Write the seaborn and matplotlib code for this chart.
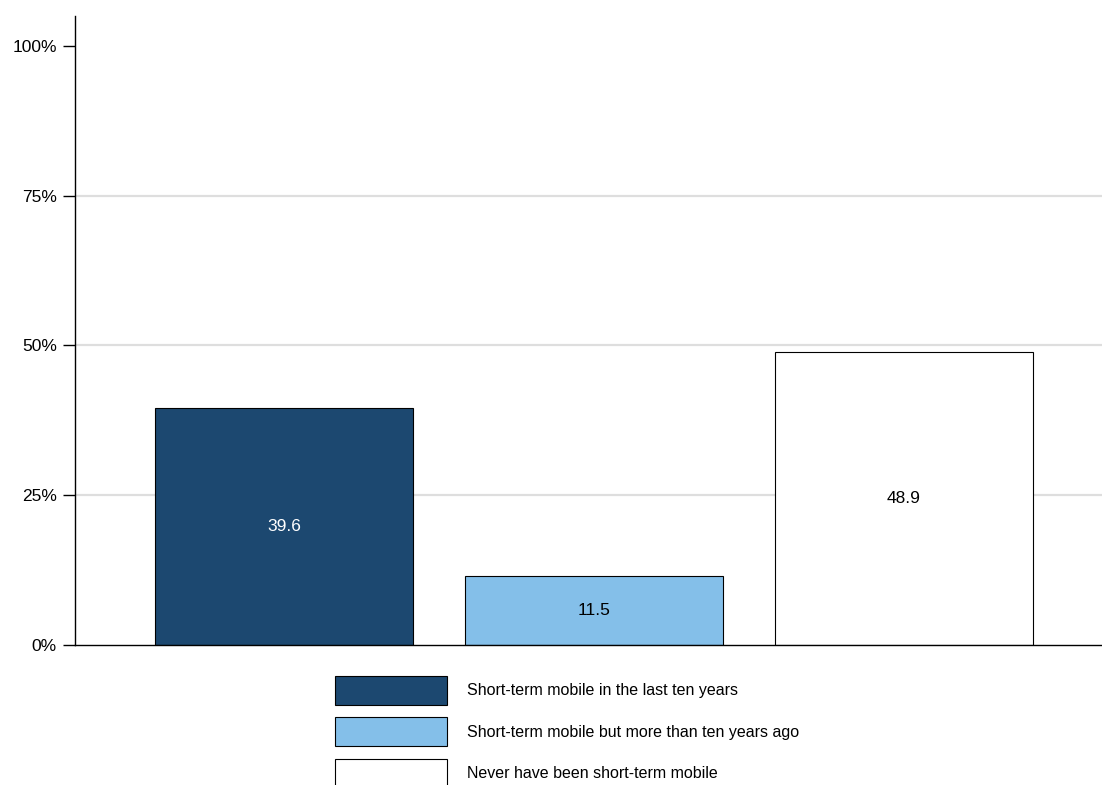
import matplotlib
matplotlib.use("Agg")
import matplotlib.pyplot as plt
import seaborn as sns
import pandas as pd

# Data
categories = [
    "Short-term mobile in the last ten years",
    "Short-term mobile but more than ten years ago",
    "Never have been short-term mobile",
]
shares = [39.6, 11.5, 48.9]
bar_colors = ["#1c4870", "#84bfe9", "#ffffff"]
label_colors = ["white", "black", "black"]
y_ticks = [0, 25, 50, 75, 100]
y_tick_labels = ["0%", "25%", "50%", "75%", "100%"]

sns.set_theme(style="white")
plt.rcParams["font.family"] = ["Liberation Sans", "DejaVu Sans"]
plt.rcParams["text.color"] = "black"
plt.rcParams["ytick.color"] = "black"

df = pd.DataFrame({"group": categories, "share": shares})

fig = plt.figure(figsize=(11.02, 7.85), dpi=100)
ax = fig.add_axes([0.068, 0.178, 0.932, 0.802])

# light horizontal grid lines (none at 100%)
for yv in y_ticks[1:-1]:
    ax.axhline(yv, color="#dedede", linewidth=1.6, zorder=0)

sns.barplot(
    data=df, x="group", y="share", hue="group",
    palette=bar_colors, order=categories, hue_order=categories,
    saturation=1, edgecolor="black", linewidth=0.8, width=0.833,
    legend=False, ax=ax, zorder=2,
)

for cont, col in zip(ax.containers, label_colors):
    ax.bar_label(cont, fmt="%.1f", label_type="center", color=col, fontsize=12.5)

ax.set_xlim(-0.675, 2.64)
ax.set_ylim(0, 105)
ax.set_yticks(y_ticks)
ax.set_yticklabels(y_tick_labels, fontsize=12.5)
ax.set_xticks([])
ax.set_xlabel("")
ax.set_ylabel("")

ax.tick_params(axis="y", which="major", direction="out", length=8.5, width=1,
               color="black", labelcolor="black", left=True, pad=4.5)
for side in ["top", "right"]:
    ax.spines[side].set_visible(False)
for side in ["left", "bottom"]:
    ax.spines[side].set_color("black")
    ax.spines[side].set_linewidth(1.0)

handles = [cont.patches[0] for cont in ax.containers]
fig.legend(
    handles, categories,
    loc="upper left", bbox_to_anchor=(0.304, 0.139),
    frameon=False, fontsize=11.5, labelcolor="black",
    handlelength=7.0, handleheight=2.4, handletextpad=1.25,
    labelspacing=0.8, borderpad=0, borderaxespad=0,
)

fig.savefig("out.png", dpi=100)
